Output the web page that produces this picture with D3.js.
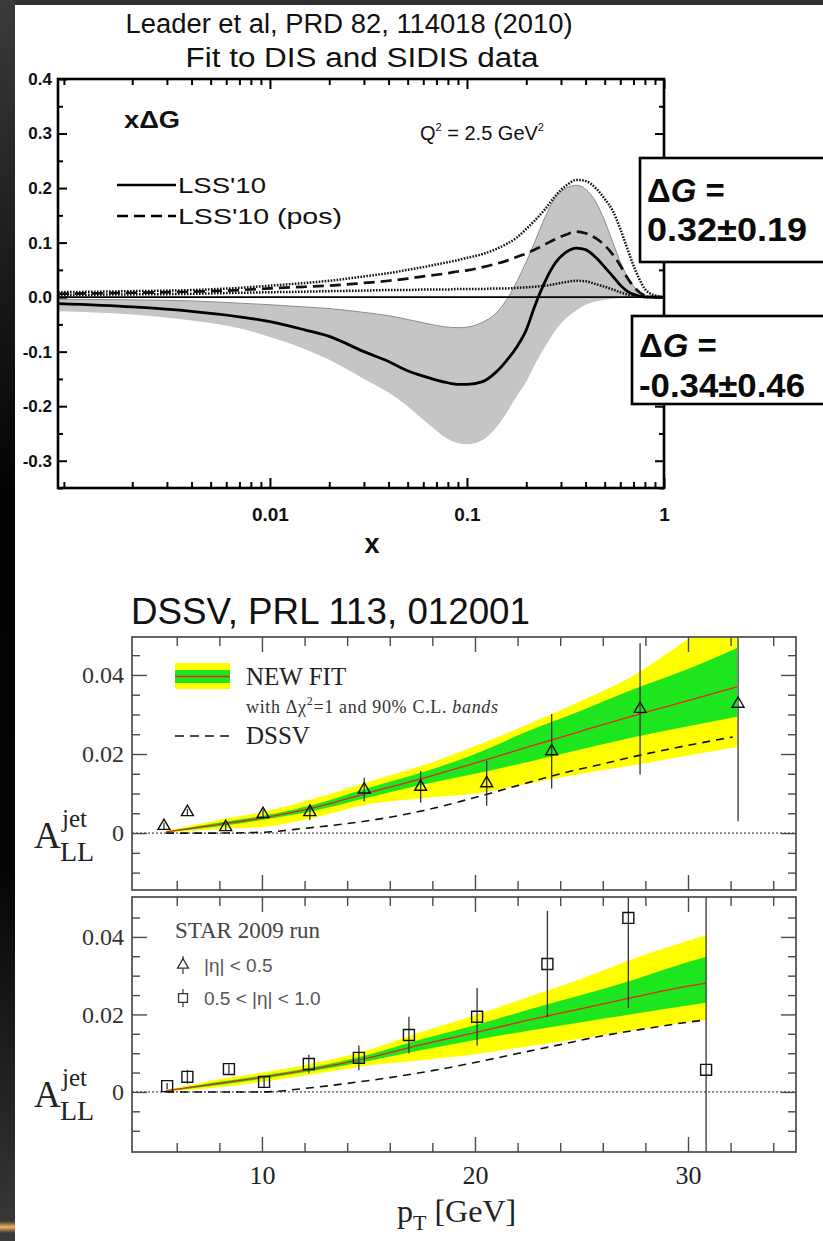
<!DOCTYPE html>
<html>
<head>
<meta charset="utf-8">
<script src="https://cdn.jsdelivr.net/npm/d3@7"></script>
<style>
  html, body { margin: 0; padding: 0; background: #fff; }
  svg { display: block; }
</style>
</head>
<body>
<svg id="fig" width="823" height="1241"></svg>
<script>
// ---------- x*DeltaG(x) at Q^2 = 2.5 GeV^2 (LSS'10) ----------
const xGrid = [0.00084,0.002,0.004,0.007,0.01,0.015,0.02,0.03,0.04,0.05,0.06,0.07,0.08,0.09,0.1,0.12,0.14,0.16,0.18,0.2,0.22,0.25,0.28,0.32,0.36,0.4,0.45,0.5,0.55,0.6,0.65,0.7,0.75,0.8,0.9,1.0];
const lssSolid   = [-0.012,-0.018,-0.026,-0.036,-0.045,-0.06,-0.072,-0.1,-0.118,-0.135,-0.145,-0.152,-0.157,-0.16,-0.16,-0.155,-0.138,-0.115,-0.09,-0.06,-0.018,0.03,0.062,0.083,0.09,0.087,0.073,0.055,0.038,0.022,0.011,0.005,0.002,0.0005,0,0];
const lssBandHi  = [-0.004,-0.005,-0.007,-0.011,-0.014,-0.018,-0.021,-0.028,-0.034,-0.041,-0.047,-0.052,-0.055,-0.056,-0.055,-0.046,-0.03,-0.003,0.03,0.065,0.1,0.148,0.182,0.2,0.205,0.198,0.175,0.14,0.1,0.065,0.038,0.02,0.009,0.004,0.001,0];
const lssBandLo  = [-0.026,-0.032,-0.043,-0.057,-0.073,-0.095,-0.115,-0.15,-0.175,-0.2,-0.225,-0.245,-0.26,-0.268,-0.27,-0.262,-0.24,-0.21,-0.18,-0.155,-0.125,-0.09,-0.062,-0.038,-0.024,-0.014,-0.008,-0.005,-0.003,-0.002,-0.001,0,0,0,0,0];
const lssPos     = [0.006,0.008,0.01,0.013,0.016,0.019,0.021,0.026,0.03,0.034,0.038,0.041,0.044,0.047,0.049,0.055,0.061,0.067,0.074,0.08,0.087,0.097,0.106,0.115,0.12,0.117,0.108,0.095,0.078,0.058,0.036,0.02,0.009,0.003,0,0];
const lssPosHi   = [0.009,0.011,0.013,0.017,0.021,0.026,0.03,0.038,0.044,0.05,0.055,0.06,0.064,0.068,0.072,0.079,0.088,0.098,0.11,0.125,0.14,0.162,0.185,0.205,0.215,0.213,0.2,0.18,0.158,0.125,0.09,0.058,0.033,0.015,0.003,0];
const lssPosLo   = [0.004,0.005,0.006,0.008,0.009,0.01,0.011,0.012,0.013,0.013,0.014,0.014,0.014,0.015,0.015,0.015,0.016,0.016,0.017,0.018,0.019,0.021,0.024,0.028,0.03,0.029,0.024,0.019,0.014,0.009,0.005,0.003,0.001,0,0,0];
const topYTicks  = [-0.3,-0.2,-0.1,0.0,0.1,0.2,0.3,0.4];
const topXTicks  = [0.01,0.1,1];
const legendTop  = ["LSS'10","LSS'10 (pos)"];
const deltaG     = ["0.32\u00B10.19","-0.34\u00B10.46"];

// ---------- A_LL^jet vs pT (STAR 2009, DSSV) ----------
const fitPt1   = [5.5,8,10,12.5,15,17.5,20,22.5,25,27.5,30,32.3];
const fit1Mid  = [0.0003,0.0022,0.0038,0.0065,0.0102,0.0138,0.0177,0.0218,0.0258,0.0298,0.0335,0.0370];
const fit1GHi  = [0.0004,0.0027,0.0043,0.0073,0.0114,0.0153,0.0200,0.0258,0.0310,0.0365,0.0415,0.0468];
const fit1GLo  = [0.0002,0.0017,0.0033,0.0057,0.0090,0.0122,0.0150,0.0180,0.0212,0.0243,0.0270,0.0294];
const fit1YHi  = [0.0005,0.0034,0.0053,0.0088,0.0130,0.0170,0.0220,0.0275,0.0335,0.0400,0.0490,0.0565];
const fit1YLo  = [0.0001,0.0010,0.0015,0.0040,0.0073,0.0088,0.0100,0.0125,0.0150,0.0172,0.0196,0.0218];
const dssvPt1  = [5.5,8,10,12,14,16,18,20,22,24,26,28,30,32.1];
const dssv1    = [0,0,0.0002,0.0012,0.0024,0.0040,0.0062,0.0090,0.0120,0.0150,0.0175,0.0200,0.0222,0.0243];
const triPt    = [5.4,6.5,8.3,10.05,12.25,14.8,17.45,20.55,23.6,27.75,32.35];
const triAll   = [0.0018,0.0053,0.0015,0.0048,0.0053,0.011,0.0117,0.0126,0.0207,0.0314,0.0327];
const triErr   = [0.0008,0.0008,0.0009,0.0012,0.0020,0.0030,0.0040,0.0057,0.0094,0.0166,0.0297];

const fitPt2   = [5.5,8,10,12.5,15,17.5,20,22.5,25,27.5,30,30.85];
const fit2Mid  = [0.0003,0.0022,0.0038,0.0060,0.0088,0.0122,0.0153,0.0185,0.0215,0.0245,0.0273,0.0281];
const fit2GHi  = [0.0004,0.0026,0.0042,0.0065,0.0096,0.0136,0.0172,0.0212,0.0250,0.0290,0.0335,0.0348];
const fit2GLo  = [0.0002,0.0018,0.0034,0.0055,0.0080,0.0108,0.0134,0.0158,0.0180,0.0202,0.0223,0.0230];
const fit2YHi  = [0.0005,0.0033,0.0050,0.0075,0.0108,0.0155,0.0198,0.0245,0.0292,0.0345,0.0390,0.0405];
const fit2YLo  = [0.0001,0.0012,0.0026,0.0046,0.0068,0.0082,0.0097,0.0118,0.0138,0.0160,0.0180,0.0186];
const dssvPt2  = [5.5,8,10,12,14,16,18,20,22,24,26,28,30,30.85];
const dssv2    = [0,0,0,0.0009,0.0022,0.0037,0.0055,0.0076,0.0099,0.0122,0.0145,0.0163,0.0180,0.0186];
const sqPt     = [5.55,6.5,8.45,10.1,12.2,14.55,16.9,20.1,23.4,27.2,30.85];
const sqAll    = [0.0015,0.0039,0.0059,0.0026,0.0072,0.0088,0.0147,0.0194,0.033,0.0449,0.0057];
const sqErr    = [0.0008,0.0018,0.0012,0.0015,0.0024,0.0032,0.0047,0.0074,0.0137,0.0232,0.06];

const allYMajor = [0,0.02,0.04];
const allYMinor = [-0.01,-0.005,0.005,0.01,0.015,0.025,0.03,0.035,0.045];
const ptMajor   = [10,20,30];
const ptMinor   = [6,8,12,14,16,18,22,24,26,28,32,34];

// ---------------------------------------------------------------
const W = 823, H = 1241;
const SANS = "'Liberation Sans', Arial, sans-serif";
const SERIF = "'Liberation Serif', 'Times New Roman', serif";
const svg = d3.select('#fig');
const defs = svg.append('defs');

// page frame: white sheet with a dark edge on the top and left
const edge = defs.append('linearGradient').attr('id','edgeShade')
  .attr('x1',0).attr('y1',0).attr('x2',0).attr('y2',1);
[[0,'#3a3a3a'],[0.22,'#1a1a1a'],[0.4,'#030303'],[0.7,'#050505'],[0.9,'#262626'],[1,'#3a3a3a']]
  .forEach(([o,c]) => edge.append('stop').attr('offset',o).attr('stop-color',c));
const gold = defs.append('linearGradient').attr('id','goldStreak')
  .attr('x1',0).attr('y1',0).attr('x2',0).attr('y2',1);
[[0,'#e2a64a',0],[0.5,'#f0b860',1],[1,'#e2a64a',0]]
  .forEach(([o,c,a]) => gold.append('stop').attr('offset',o).attr('stop-color',c).attr('stop-opacity',a));

svg.append('rect').attr('width',W).attr('height',H).attr('fill','#fff');
svg.append('rect').attr('width',W).attr('height',5).attr('fill','#2f2f2f');
svg.append('rect').attr('width',15).attr('height',H).attr('fill','url(#edgeShade)');
svg.append('rect').attr('y',1221).attr('width',15).attr('height',12).attr('fill','url(#goldStreak)');

// ================= upper figure: x*DeltaG =================
const tb = {l:58, r:664, t:79, b:488};
const xT = d3.scaleLog().domain([0.00084,1]).range([tb.l,tb.r]);
const yT = d3.scaleLinear().domain([-0.35,0.4]).range([tb.b,tb.t]);

svg.append('text').attr('x',349).attr('y',33).attr('text-anchor','middle')
  .attr('font-family',SANS).attr('font-size',27).attr('fill','#111')
  .attr('textLength',447).attr('lengthAdjust','spacingAndGlyphs')
  .text('Leader et al, PRD 82, 114018 (2010)');
svg.append('text').attr('x',362).attr('y',67).attr('text-anchor','middle')
  .attr('font-family',SANS).attr('font-size',27).attr('fill','#111')
  .attr('textLength',353).attr('lengthAdjust','spacingAndGlyphs')
  .text('Fit to DIS and SIDIS data');

defs.append('clipPath').attr('id','clipTop').append('rect')
  .attr('x',tb.l).attr('y',tb.t).attr('width',tb.r-tb.l).attr('height',tb.b-tb.t);
const rowsT = xGrid.map((x,i) => ({x, solid:lssSolid[i], lo:lssBandLo[i], hi:lssBandHi[i],
  pos:lssPos[i], posHi:lssPosHi[i], posLo:lssPosLo[i]}));
const plotT = svg.append('g').attr('clip-path','url(#clipTop)');
const curveOf = key => d3.line().x(d => xT(d.x)).y(d => yT(d[key])).curve(d3.curveMonotoneX);

plotT.append('path').datum(rowsT)
  .attr('d', d3.area().x(d => xT(d.x)).y0(d => yT(d.lo)).y1(d => yT(d.hi)).curve(d3.curveMonotoneX))
  .attr('fill','#c5c5c5');
plotT.append('path').datum(rowsT).attr('d',curveOf('hi'))
  .attr('fill','none').attr('stroke','#8c8c8c').attr('stroke-width',1);
plotT.append('line').attr('x1',tb.l).attr('x2',tb.r).attr('y1',yT(0)).attr('y2',yT(0))
  .attr('stroke','#000').attr('stroke-width',1.6);
['posHi','posLo'].forEach(k => plotT.append('path').datum(rowsT).attr('d',curveOf(k))
  .attr('fill','none').attr('stroke','#111').attr('stroke-width',2.5).attr('stroke-dasharray','1.6,1.4'));
plotT.append('path').datum(rowsT).attr('d',curveOf('pos'))
  .attr('fill','none').attr('stroke','#111').attr('stroke-width',2.7).attr('stroke-dasharray','11,6');
plotT.append('path').datum(rowsT).attr('d',curveOf('solid'))
  .attr('fill','none').attr('stroke','#000').attr('stroke-width',2.8);

// ticks (inward) and labels
const fmtTop = d => (d < 0 ? '-' : '') + Math.abs(d).toFixed(1);
const yMinorT = d3.range(-0.35,0.401,0.05).map(v => +v.toFixed(2)).filter(v => Math.abs(v*10 - Math.round(v*10)) > 1e-6);
const xMinorT = [0.0009];
[1e-3,1e-2,1e-1].forEach(dec => d3.range(2,10).forEach(k => xMinorT.push(+(dec*k).toPrecision(3))));
function styleAxis(g, col, w) {
  g.select('.domain').remove();
  g.selectAll('line').attr('stroke',col).attr('stroke-width',w);
}
const axT = svg.append('g');
axT.append('g').attr('transform',`translate(${tb.l},0)`)
  .call(d3.axisLeft(yT).tickValues(topYTicks).tickSize(-9).tickPadding(6).tickFormat(fmtTop))
  .call(g => styleAxis(g,'#000',2))
  .call(g => g.selectAll('text').attr('font-family',SANS).attr('font-size',17).attr('font-weight','bold').attr('fill','#111'));
axT.append('g').attr('transform',`translate(${tb.l},0)`)
  .call(d3.axisLeft(yT).tickValues(yMinorT).tickSize(-5).tickFormat(''))
  .call(g => styleAxis(g,'#000',2));
axT.append('g').attr('transform',`translate(${tb.r},0)`)
  .call(d3.axisRight(yT).tickValues(topYTicks).tickSize(-9).tickFormat(''))
  .call(g => styleAxis(g,'#000',2));
axT.append('g').attr('transform',`translate(${tb.r},0)`)
  .call(d3.axisRight(yT).tickValues(yMinorT).tickSize(-5).tickFormat(''))
  .call(g => styleAxis(g,'#000',2));
axT.append('g').attr('transform',`translate(0,${tb.b})`)
  .call(d3.axisBottom(xT).tickValues(topXTicks).tickSize(-10).tickPadding(20).tickFormat(d => String(d)))
  .call(g => styleAxis(g,'#000',2))
  .call(g => g.selectAll('text').attr('font-family',SANS).attr('font-size',19).attr('font-weight','bold').attr('fill','#111'));
axT.append('g').attr('transform',`translate(0,${tb.b})`)
  .call(d3.axisBottom(xT).tickValues(xMinorT).tickSize(-6).tickFormat(''))
  .call(g => styleAxis(g,'#000',2));
axT.append('g').attr('transform',`translate(0,${tb.t})`)
  .call(d3.axisTop(xT).tickValues(topXTicks).tickSize(-10).tickFormat(''))
  .call(g => styleAxis(g,'#000',2));
axT.append('g').attr('transform',`translate(0,${tb.t})`)
  .call(d3.axisTop(xT).tickValues(xMinorT).tickSize(-6).tickFormat(''))
  .call(g => styleAxis(g,'#000',2));
svg.append('rect').attr('x',tb.l).attr('y',tb.t).attr('width',tb.r-tb.l).attr('height',tb.b-tb.t)
  .attr('fill','none').attr('stroke','#000').attr('stroke-width',2.6);

svg.append('text').attr('x',372).attr('y',553).attr('text-anchor','middle')
  .attr('font-family',SANS).attr('font-size',27).attr('font-weight','bold').attr('fill','#111').text('x');
svg.append('text').attr('x',124).attr('y',128)
  .attr('font-family',SANS).attr('font-size',23).attr('font-weight','bold').attr('fill','#111')
  .attr('textLength',56).attr('lengthAdjust','spacingAndGlyphs').text('x\u0394G');
const q2 = svg.append('text').attr('x',420).attr('y',140)
  .attr('font-family',SANS).attr('font-size',20).attr('fill','#111');
q2.append('tspan').text('Q');
q2.append('tspan').attr('font-size',11).attr('dy',-9).text('2');
q2.append('tspan').attr('dy',9).text(' = 2.5 GeV');
q2.append('tspan').attr('font-size',11).attr('dy',-9).text('2');

// legend
const legT = svg.append('g');
legT.append('line').attr('x1',117).attr('x2',176).attr('y1',185).attr('y2',185)
  .attr('stroke','#000').attr('stroke-width',2.6);
legT.append('line').attr('x1',117).attr('x2',176).attr('y1',216).attr('y2',216)
  .attr('stroke','#000').attr('stroke-width',2.6).attr('stroke-dasharray','11,6');
const legW = [88,164];
legT.selectAll('text.lbl').data(legendTop).join('text').attr('class','lbl')
  .attr('x',178).attr('y',(d,i) => 193 + i*31)
  .attr('font-family',SANS).attr('font-size',22).attr('fill','#111')
  .attr('textLength',(d,i) => legW[i]).attr('lengthAdjust','spacingAndGlyphs').text(d => d);

// first moments
const boxes = [{x:640,y:158,h:104,tx:647,val:deltaG[0],w:160},{x:632,y:316,h:88,tx:639,val:deltaG[1],w:166}];
boxes.forEach((b,i) => {
  svg.append('rect').attr('x',b.x).attr('y',b.y).attr('width',W - b.x + 10).attr('height',b.h)
    .attr('fill','#fff').attr('stroke','#000').attr('stroke-width',2.6);
  const t1 = svg.append('text').attr('x',b.tx).attr('y',b.y + (i ? 41 : 44))
    .attr('font-family',SANS).attr('font-size',33).attr('font-weight','bold').attr('fill','#0a0a0a');
  t1.append('tspan').text('\u0394');
  t1.append('tspan').attr('font-style','italic').text('G');
  t1.append('tspan').text(' =');
  svg.append('text').attr('x',b.tx).attr('y',b.y + (i ? 81 : 83))
    .attr('font-family',SANS).attr('font-size',33).attr('font-weight','bold').attr('fill','#0a0a0a')
    .attr('textLength',b.w).attr('lengthAdjust','spacingAndGlyphs')
    .text(b.val);
});

// ================= lower figure: A_LL^jet =================
svg.append('text').attr('x',131).attr('y',624)
  .attr('font-family',SANS).attr('font-size',36).attr('fill','#111')
  .attr('textLength',399).attr('lengthAdjust','spacingAndGlyphs')
  .text('DSSV, PRL 113, 012001');

const xB = d3.scaleLinear().domain([3.9,35.07]).range([132,796]);
const fmtB = d => d === 0 ? '0' : d.toFixed(2);

function drawPanel(p) {
  const y = d3.scaleLinear().domain(p.yDomain).range([p.bottom,p.top]);
  const id = 'clip' + p.key;
  defs.append('clipPath').attr('id',id).append('rect')
    .attr('x',xB.range()[0]).attr('y',p.top).attr('width',xB.range()[1]-xB.range()[0]).attr('height',p.bottom-p.top);
  const g = svg.append('g').attr('clip-path',`url(#${id})`);
  const rows = p.fitPt.map((pt,i) => ({pt, mid:p.mid[i], gLo:p.gLo[i], gHi:p.gHi[i], yLo:p.yLo[i], yHi:p.yHi[i]}));
  const band = (lo,hi) => d3.area().x(d => xB(d.pt)).y0(d => y(d[lo])).y1(d => y(d[hi])).curve(d3.curveMonotoneX);
  g.append('path').datum(rows).attr('d',band('yLo','yHi')).attr('fill','#ffff00');
  g.append('path').datum(rows).attr('d',band('gLo','gHi')).attr('fill','#1ee61e');
  g.append('path').datum(rows)
    .attr('d',d3.line().x(d => xB(d.pt)).y(d => y(d.mid)).curve(d3.curveMonotoneX))
    .attr('fill','none').attr('stroke','#e8231a').attr('stroke-width',1.3);
  g.append('line').attr('x1',xB.range()[0]).attr('x2',xB.range()[1]).attr('y1',y(0)).attr('y2',y(0))
    .attr('stroke','#222').attr('stroke-width',1).attr('stroke-dasharray','2,2');
  const dssvRows = p.dPt.map((pt,i) => ({pt, v:p.dVal[i]}));
  g.append('path').datum(dssvRows)
    .attr('d',d3.line().x(d => xB(d.pt)).y(d => y(d.v)).curve(d3.curveMonotoneX))
    .attr('fill','none').attr('stroke','#111').attr('stroke-width',1.6).attr('stroke-dasharray','8,6');
  const pts = p.pPt.map((pt,i) => ({pt, v:p.pVal[i], e:p.pErr[i]}));
  g.selectAll('line.err').data(pts).join('line').attr('class','err')
    .attr('x1',d => xB(d.pt)).attr('x2',d => xB(d.pt))
    .attr('y1',d => y(d.v - d.e)).attr('y2',d => y(d.v + d.e))
    .attr('stroke','#333').attr('stroke-width',1.3);
  g.selectAll('path.mk').data(pts).join('path').attr('class','mk')
    .attr('transform',d => `translate(${xB(d.pt)},${y(d.v)})`)
    .attr('d',d3.symbol(p.symbol, p.symSize))
    .attr('fill','none').attr('stroke','#111').attr('stroke-width',1.4);

  // ticks
  const ax = svg.append('g');
  const col = '#4a4a4a';
  ax.append('g').attr('transform',`translate(${xB.range()[0]},0)`)
    .call(d3.axisLeft(y).tickValues(allYMajor).tickSize(-15).tickPadding(8).tickFormat(fmtB))
    .call(g2 => styleAxis(g2,col,1.4))
    .call(g2 => g2.selectAll('text').attr('font-family',SERIF).attr('font-size',24).attr('fill','#333'));
  ax.append('g').attr('transform',`translate(${xB.range()[0]},0)`)
    .call(d3.axisLeft(y).tickValues(allYMinor).tickSize(-8).tickFormat(''))
    .call(g2 => styleAxis(g2,col,1.4));
  ax.append('g').attr('transform',`translate(${xB.range()[1]},0)`)
    .call(d3.axisRight(y).tickValues(allYMajor).tickSize(-15).tickFormat(''))
    .call(g2 => styleAxis(g2,col,1.4));
  ax.append('g').attr('transform',`translate(${xB.range()[1]},0)`)
    .call(d3.axisRight(y).tickValues(allYMinor).tickSize(-8).tickFormat(''))
    .call(g2 => styleAxis(g2,col,1.4));
  ax.append('g').attr('transform',`translate(0,${p.bottom})`)
    .call(d3.axisBottom(xB).tickValues(ptMajor).tickSize(-15).tickPadding(14)
      .tickFormat(p.xLabels ? d => String(d) : ''))
    .call(g2 => styleAxis(g2,col,1.4))
    .call(g2 => g2.selectAll('text').attr('font-family',SERIF).attr('font-size',26).attr('fill','#222'));
  ax.append('g').attr('transform',`translate(0,${p.bottom})`)
    .call(d3.axisBottom(xB).tickValues(ptMinor).tickSize(-9).tickFormat(''))
    .call(g2 => styleAxis(g2,col,1.4));
  ax.append('g').attr('transform',`translate(0,${p.top})`)
    .call(d3.axisTop(xB).tickValues(ptMajor).tickSize(-15).tickFormat(''))
    .call(g2 => styleAxis(g2,col,1.4));
  ax.append('g').attr('transform',`translate(0,${p.top})`)
    .call(d3.axisTop(xB).tickValues(ptMinor).tickSize(-9).tickFormat(''))
    .call(g2 => styleAxis(g2,col,1.4));
  svg.append('rect').attr('x',xB.range()[0]).attr('y',p.top)
    .attr('width',xB.range()[1]-xB.range()[0]).attr('height',p.bottom-p.top)
    .attr('fill','none').attr('stroke',col).attr('stroke-width',1.7);

  // axis title A_LL^jet
  const y0 = y(0);
  svg.append('text').attr('x',34).attr('y',y0+15).attr('font-family',SERIF).attr('font-size',37).attr('fill','#222').text('A');
  svg.append('text').attr('x',62).attr('y',y0-6).attr('font-family',SERIF).attr('font-size',25).attr('fill','#222').text('jet');
  svg.append('text').attr('x',60).attr('y',y0+28).attr('font-family',SERIF).attr('font-size',28).attr('fill','#222').text('LL');
  return y;
}

drawPanel({key:'p1', top:637, bottom:890, yDomain:[-0.0144,0.0496],
  fitPt:fitPt1, mid:fit1Mid, gLo:fit1GLo, gHi:fit1GHi, yLo:fit1YLo, yHi:fit1YHi,
  dPt:dssvPt1, dVal:dssv1, pPt:triPt, pVal:triAll, pErr:triErr,
  symbol:d3.symbolTriangle, symSize:62, xLabels:false});
drawPanel({key:'p2', top:897, bottom:1152, yDomain:[-0.0155,0.0503],
  fitPt:fitPt2, mid:fit2Mid, gLo:fit2GLo, gHi:fit2GHi, yLo:fit2YLo, yHi:fit2YHi,
  dPt:dssvPt2, dVal:dssv2, pPt:sqPt, pVal:sqAll, pErr:sqErr,
  symbol:d3.symbolSquare, symSize:120, xLabels:true});

// legend, upper panel
const lg1 = svg.append('g');
lg1.append('rect').attr('x',175).attr('y',663).attr('width',55).attr('height',26).attr('fill','#ffff00');
lg1.append('rect').attr('x',175).attr('y',670).attr('width',55).attr('height',13).attr('fill','#1ee61e');
lg1.append('line').attr('x1',175).attr('x2',230).attr('y1',676.5).attr('y2',676.5).attr('stroke','#e8231a').attr('stroke-width',1.6);
lg1.append('line').attr('x1',175).attr('x2',230).attr('y1',736).attr('y2',736)
  .attr('stroke','#111').attr('stroke-width',1.6).attr('stroke-dasharray','9,6');
lg1.append('text').attr('x',246).attr('y',685).attr('font-family',SERIF).attr('font-size',25).attr('fill','#222').text('NEW FIT');
const sub = lg1.append('text').attr('x',246).attr('y',713).attr('font-family',SERIF).attr('font-size',18).attr('fill','#333')
  .attr('textLength',252).attr('lengthAdjust','spacing');
sub.append('tspan').text('with \u0394\u03C7');
sub.append('tspan').attr('font-size',12).attr('dy',-8).text('2');
sub.append('tspan').attr('dy',8).text('=1 and 90% C.L. ');
sub.append('tspan').attr('font-style','italic').text('bands');
lg1.append('text').attr('x',246).attr('y',744).attr('font-family',SERIF).attr('font-size',25).attr('fill','#222').text('DSSV');

// legend, lower panel
const lg2 = svg.append('g');
lg2.append('text').attr('x',175).attr('y',938).attr('font-family',SERIF).attr('font-size',23).attr('fill','#444').text('STAR 2009 run');
[[965,d3.symbolTriangle,52,'|\u03B7| < 0.5'],[998,d3.symbolSquare,80,'0.5 < |\u03B7| < 1.0']].forEach(([yy,sym,sz,lab]) => {
  lg2.append('line').attr('x1',183).attr('x2',183).attr('y1',yy-9).attr('y2',yy+9).attr('stroke','#444').attr('stroke-width',1.3);
  lg2.append('path').attr('transform',`translate(183,${yy})`).attr('d',d3.symbol(sym,sz))
    .attr('fill','#fff').attr('stroke','#333').attr('stroke-width',1.3);
  lg2.append('text').attr('x',204).attr('y',yy+7).attr('font-family',SANS).attr('font-size',19).attr('fill','#555').text(lab);
});

// x-axis title
const xt = svg.append('text').attr('x',397).attr('y',1222).attr('font-family',SERIF).attr('font-size',32).attr('fill','#222');
xt.append('tspan').text('p');
xt.append('tspan').attr('font-size',22).attr('dy',8).text('T');
xt.append('tspan').attr('dy',-8).text(' [GeV]');
</script>
</body>
</html>
